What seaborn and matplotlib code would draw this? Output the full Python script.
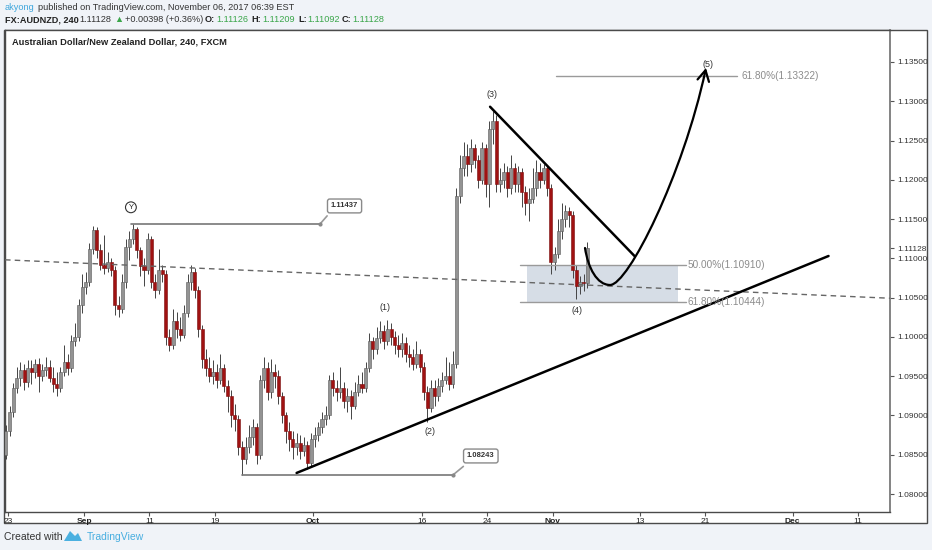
import matplotlib
matplotlib.use('Agg')
import matplotlib.pyplot as plt
import matplotlib.patches as mpatches
from matplotlib.path import Path
import numpy as np
import pandas as pd
import seaborn as sns

sns.set_theme(style='white')
plt.rcParams['font.family'] = ['Liberation Sans', 'DejaVu Sans']

# --- AUDNZD candles (first one is the last bar of Aug 22, then 3 bars per trading day) ---
first_open = 1.0850
closes = [
    1.0880,
    1.0905, 1.0935, 1.0948,  1.0958, 1.0942, 1.0960,  1.0955, 1.0965, 1.0950,
    1.0958, 1.0962, 1.0948,  1.0940, 1.0935, 1.0955,  1.0968, 1.0960, 1.0995,
    1.1000, 1.1040, 1.1064,
    1.1070, 1.1112, 1.1136,  1.1110, 1.1092, 1.1088,  1.1095, 1.1085, 1.1040,
    1.1035, 1.1070, 1.1115,  1.1125, 1.1138, 1.1110,  1.1090, 1.1085, 1.1125,
    1.1070, 1.1060, 1.1085,  1.1080, 1.1000, 1.0990,  1.1020, 1.1010, 1.1002,
    1.1030, 1.1070, 1.1082,  1.1060, 1.1010, 1.0972,  1.0960, 1.0950, 1.0955,
    1.0945, 1.0960, 1.0938,  1.0925, 1.0900, 1.0895,  1.0860, 1.0845, 1.0860,
    1.0872, 1.0885, 1.0850,  1.0945, 1.0960, 1.0930,  1.0955, 1.0950, 1.0925,
    1.0900, 1.0880, 1.0870,  1.0860, 1.0865, 1.0855,  1.0862, 1.0840, 1.0870,
    1.0875, 1.0885, 1.0895,  1.0900, 1.0945, 1.0935,  1.0930, 1.0935, 1.0918,
    1.0925, 1.0912, 1.0930,  1.0940, 1.0935, 1.0960,  1.0995, 1.0985, 1.0998,
    1.1008, 1.0995, 1.1010,  1.1000, 1.0990, 1.0985,  1.0992, 1.0978, 1.0975,
    1.0965, 1.0978, 1.0962,  1.0930, 1.0910, 1.0935,  1.0925, 1.0938, 1.0945,
    1.0950, 1.0940, 1.0965,  1.1180, 1.1215, 1.1230,  1.1220, 1.1240, 1.1225,
    1.1200, 1.1240, 1.1195,  1.1265, 1.1275, 1.1195,  1.1200, 1.1210, 1.1190,
    1.1215, 1.1195, 1.1210,  1.1185, 1.1170, 1.1175,  1.1190, 1.1210, 1.1200,
    1.1215, 1.1190, 1.1095,
    1.1105, 1.1135, 1.1150,  1.1160, 1.1155, 1.1085,  1.1065, 1.1070, 1.1068,
    1.1113,
]
highs = [
    1.0888,
    1.0912, 1.0941, 1.0962,  1.0968, 1.0965, 1.0971,  1.0970, 1.0972, 1.0973,
    1.0966, 1.0975, 1.0970,  1.0962, 1.0955, 1.0962,  1.0990, 1.0978, 1.1002,
    1.1018, 1.1048, 1.1080,
    1.1082, 1.1120, 1.1141,  1.1140, 1.1118, 1.1130,  1.1108, 1.1100, 1.1090,
    1.1052, 1.1080, 1.1125,  1.1135, 1.1144, 1.1140,  1.1115, 1.1100, 1.1132,
    1.1128, 1.1080, 1.1112,  1.1092, 1.1085, 1.1010,  1.1035, 1.1032, 1.1025,
    1.1040, 1.1080, 1.1092,  1.1088, 1.1065, 1.1015,  1.0985, 1.0975, 1.0970,
    1.0965, 1.0978, 1.0965,  1.0945, 1.0932, 1.0915,  1.0900, 1.0868, 1.0872,
    1.0888, 1.0895, 1.0890,  1.0952, 1.0975, 1.0968,  1.0972, 1.0965, 1.0958,
    1.0930, 1.0905, 1.0892,  1.0880, 1.0878, 1.0875,  1.0872, 1.0868, 1.0878,
    1.0885, 1.0892, 1.0905,  1.0912, 1.0952, 1.0955,  1.0945, 1.0962, 1.0942,
    1.0935, 1.0932, 1.0942,  1.0952, 1.0955, 1.0968,  1.1005, 1.1000, 1.1012,
    1.1020, 1.1015, 1.1022,  1.1018, 1.1008, 1.1002,  1.1005, 1.1000, 1.0990,
    1.0985, 1.0995, 1.0985,  1.0968, 1.0938, 1.0945,  1.0945, 1.0948, 1.0955,
    1.0975, 1.0968, 1.0982,  1.1190, 1.1232, 1.1248,  1.1245, 1.1252, 1.1245,
    1.1232, 1.1248, 1.1245,  1.1275, 1.1288, 1.1282,  1.1215, 1.1222, 1.1218,
    1.1232, 1.1222, 1.1218,  1.1215, 1.1192, 1.1190,  1.1215, 1.1225, 1.1222,
    1.1220, 1.1218, 1.1195,
    1.1115, 1.1150, 1.1170,  1.1168, 1.1165, 1.1160,  1.1092, 1.1078, 1.1080,
    1.1121,
]
lows = [
    1.0845,
    1.0874, 1.0898, 1.0928,  1.0938, 1.0933, 1.0936,  1.0940, 1.0948, 1.0930,
    1.0944, 1.0950, 1.0942,  1.0930, 1.0925, 1.0930,  1.0950, 1.0952, 1.0955,
    1.0988, 1.0995, 1.1030,
    1.1055, 1.1065, 1.1105,  1.1100, 1.1085, 1.1080,  1.1082, 1.1078, 1.1028,
    1.1025, 1.1030, 1.1062,  1.1098, 1.1118, 1.1100,  1.1078, 1.1065, 1.1080,
    1.1062, 1.1050, 1.1055,  1.1070, 1.0990, 1.0982,  1.0985, 1.0998, 1.0995,
    1.0998, 1.1025, 1.1060,  1.1050, 1.1000, 1.0960,  1.0950, 1.0942, 1.0940,
    1.0935, 1.0940, 1.0930,  1.0905, 1.0885, 1.0880,  1.0850, 1.0824, 1.0838,
    1.0852, 1.0862, 1.0838,  1.0845, 1.0935, 1.0920,  1.0922, 1.0935, 1.0915,
    1.0890, 1.0865, 1.0855,  1.0845, 1.0850, 1.0845,  1.0848, 1.0832, 1.0835,
    1.0860, 1.0868, 1.0878,  1.0888, 1.0895, 1.0925,  1.0918, 1.0922, 1.0910,
    1.0905, 1.0895, 1.0908,  1.0925, 1.0928, 1.0930,  1.0955, 1.0972, 1.0978,
    1.0992, 1.0985, 1.0990,  1.0990, 1.0978, 1.0975,  1.0975, 1.0968, 1.0962,
    1.0958, 1.0960, 1.0955,  1.0920, 1.0892, 1.0905,  1.0912, 1.0918, 1.0930,
    1.0940, 1.0932, 1.0935,  1.0960, 1.1170, 1.1205,  1.1205, 1.1210, 1.1215,
    1.1190, 1.1195, 1.1178,  1.1165, 1.1245, 1.1185,  1.1185, 1.1190, 1.1178,
    1.1182, 1.1185, 1.1185,  1.1165, 1.1155, 1.1148,  1.1170, 1.1180, 1.1190,
    1.1195, 1.1180, 1.1080,
    1.1085, 1.1100, 1.1125,  1.1140, 1.1140, 1.1075,  1.1048, 1.1055, 1.1058,
    1.1062,
]

# --- axis values ---
price_ticks = [1.080, 1.085, 1.090, 1.095, 1.100, 1.105, 1.110, 1.115, 1.120, 1.125, 1.130, 1.135]
last_price = 1.11128
tick_dates = ['2017-08-23', '2017-09-01', '2017-09-11', '2017-09-19', '2017-10-02', '2017-10-16',
              '2017-10-24', '2017-11-01', '2017-11-13', '2017-11-21', '2017-12-01', '2017-12-11']
tick_labels = ['23', 'Sep', '11', '19', 'Oct', '16', '24', 'Nov', '13', '21', 'Dec', '11']
month_labels = ['Sep', 'Oct', 'Nov', 'Dec']

# --- drawings: (date, fraction of day, price) ---
dashed_line = [('2017-08-23', 0.0, 1.1098), ('2017-12-11', 0.0, 1.1051)]
up_trend = [('2017-09-28', 0.5, 1.08268), ('2017-12-06', 0.3, 1.1103)]
down_trend = [('2017-10-24', 0.25, 1.1293), ('2017-11-10', 0.5, 1.1103)]
high_level = 1.11437
high_line = [('2017-09-07', 0.3), ('2017-10-02', 0.65)]
high_box = ('2017-10-04', 0.9, 1.11667)
low_level = 1.08243
low_line = [('2017-09-21', 0.5), ('2017-10-18', 0.85)]
low_box = ('2017-10-23', 0.4, 1.08484)
wave_labels = [('(1)', '2017-10-10', 0.6, 1.1038), ('(2)', '2017-10-16', 0.7, 1.0880),
               ('(3)', '2017-10-24', 0.4, 1.1308), ('(4)', '2017-11-03', 0.2, 1.1034),
               ('(5)', '2017-11-21', 0.2, 1.1347)]
y_label = ('Y', '2017-09-07', 0.3, 1.1165)
fib_levels = [1.10910, 1.10444]
fib_texts = ['50.00%(1.10910)', '61.80%(1.10444)']
fib_line = [('2017-10-27', 0.0), ('2017-11-17', 0.2)]
fib_box = [('2017-10-27', 0.6), ('2017-11-16', 0.5)]
fib_top = 1.13322
fib_top_text = '61.80%(1.13322)'
fib_top_line = [('2017-11-01', 0.3), ('2017-11-23', 0.9)]
path_pts = [('2017-11-03', 0.96, 1.11132), ('2017-11-06', 0.24, 1.10878), ('2017-11-07', 0.06, 1.10661),
            ('2017-11-08', 0.26, 1.10661), ('2017-11-09', 0.91, 1.10661), ('2017-11-16', 0.95, 1.12061),
            ('2017-11-21', 0.06, 1.13424)]

cal = pd.bdate_range('2017-08-22', '2017-12-29')


def bx(date, frac=0.0):
    return cal.get_loc(pd.Timestamp(date)) + frac


opens = [first_open] + closes[:-1]
slots = np.arange(len(closes)) + 2
df = pd.DataFrame({'x': slots // 3 + (slots % 3 + 0.5) / 3, 'open': opens, 'close': closes,
                   'high': highs, 'low': lows})
df['up'] = df['close'] >= df['open']

W, H = 932, 550
fig = plt.figure(figsize=(W / 100, H / 100), dpi=100, facecolor='#f0f3f8')


def fx(x):
    return x / W


def fy(y):
    return 1 - y / H


fig.add_artist(mpatches.Rectangle((fx(4), fy(523)), fx(923), 493 / H, transform=fig.transFigure,
                                  fc='white', ec='#4a4a4a', lw=1, zorder=0))
ax = fig.add_axes([fx(5), fy(512), fx(885), 482 / H])
ax.set_facecolor('white')

# candles
ax.vlines(df['x'], df['low'], df['high'], color='#444444', lw=0.7, zorder=2)
for up, face, edge in [(True, '#939393', '#5a5a5a'), (False, '#a01212', '#7a0c0c')]:
    d = df[df['up'] == up]
    body = (d['close'] - d['open']).abs().clip(lower=0.00008)
    ax.bar(d['x'], body, bottom=d[['open', 'close']].min(axis=1), width=0.28,
           color=face, edgecolor=edge, linewidth=0.4, zorder=3)

# dashed line across the chart
(p0, p1) = dashed_line
ax.axline((bx(p0[0], p0[1]), p0[2]), (bx(p1[0], p1[1]), p1[2]), color='#666666', lw=1,
          ls=(0, (4, 3)), zorder=4)

# trend lines
for ln in (up_trend, down_trend):
    ax.plot([bx(a, f) for a, f, _ in ln], [p for _, _, p in ln], color='black', lw=1.8,
            solid_capstyle='round', zorder=5)

# price marker lines with callout boxes
for lvl, span, box in [(high_level, high_line, high_box), (low_level, low_line, low_box)]:
    xa, xb = bx(*span[0]), bx(*span[1])
    ax.plot([xa, xb], [lvl, lvl], color='#777777', lw=1.2, zorder=4)
    bxx = bx(box[0], box[1])
    ax.plot([xb, bxx - 1.6], [lvl, box[2] - (box[2] - lvl) * 0.55], color='#999999', lw=1.2, zorder=4)
    ax.plot([xb], [lvl], marker='o', ms=2, color='#888888', zorder=4)
    ax.text(bxx, box[2], f'{lvl:.5f}', fontsize=5.5, fontweight='bold', color='#333333',
            ha='center', va='center', zorder=6,
            bbox=dict(boxstyle='round,pad=0.45,rounding_size=0.3', fc='white', ec='#8a8a8a', lw=1))

# fibonacci zone
for lvl, txt in zip(fib_levels, fib_texts):
    ax.plot([bx(*fib_line[0]), bx(*fib_line[1])], [lvl, lvl], color='#9a9a9a', lw=1, zorder=3)
    ax.text(bx(*fib_line[1]) + 0.15, lvl, txt, fontsize=7.2, color='#8c8c8c', va='center', ha='left',
            zorder=6)
ax.add_patch(mpatches.Rectangle((bx(*fib_box[0]), fib_levels[1]), bx(*fib_box[1]) - bx(*fib_box[0]),
                                fib_levels[0] - fib_levels[1], fc='#cfd8e2', ec='none', alpha=0.85,
                                zorder=1))
ax.plot([bx(*fib_top_line[0]), bx(*fib_top_line[1])], [fib_top, fib_top], color='#9a9a9a', lw=1, zorder=3)
ax.text(bx(*fib_top_line[1]) + 0.4, fib_top, fib_top_text, fontsize=7.2, color='#8c8c8c', va='center',
        ha='left', zorder=6)

# wave labels
for txt, dt, f, p in wave_labels:
    ax.text(bx(dt, f), p, txt, fontsize=6.5, color='#333333', ha='center', va='center', zorder=6)
ax.text(bx(y_label[1], y_label[2]), y_label[3], y_label[0], fontsize=5.5, color='#222222',
        ha='center', va='center', zorder=6,
        bbox=dict(boxstyle='circle,pad=0.25', fc='white', ec='#333333', lw=0.8))

# projected path
verts = [(bx(d, f), p) for d, f, p in path_pts]
codes = [Path.MOVETO] + [Path.CURVE4] * 6
ax.add_patch(mpatches.FancyArrowPatch(path=Path(verts, codes),
                                      arrowstyle='->,head_length=0.55,head_width=0.3',
                                      mutation_scale=14, color='black', lw=1.6, zorder=6))

# axes
ax.set_xlim(0.75, 81.94)
ax.set_ylim(1.07771, 1.13907)
ax.yaxis.tick_right()
yt = price_ticks + [last_price]
ax.set_yticks(yt)
ax.set_yticklabels([f'{v:.5f}' for v in yt])
ax.set_xticks([bx(d) for d in tick_dates])
ax.set_xticklabels(tick_labels)
for lab in ax.get_xticklabels():
    if lab.get_text() in month_labels:
        lab.set_fontweight('bold')
ax.tick_params(axis='y', which='both', right=True, left=False, direction='out', length=3, width=0.8,
               pad=2, labelsize=6, colors='#555555', labelcolor='#333333')
ax.tick_params(axis='x', which='both', bottom=True, direction='out', length=3, width=0.8,
               pad=1, labelsize=6, colors='#555555', labelcolor='#222222')
for side in ['left', 'top', 'bottom']:
    ax.spines[side].set_color('#4a4a4a')
    ax.spines[side].set_linewidth(1)
ax.spines['right'].set_color('#7a7a7a')
ax.spines['right'].set_linewidth(1.3)
ax.grid(False)

# title and header
fig.text(fx(12), fy(42), 'Australian Dollar/New Zealand Dollar, 240, FXCM', fontsize=6.7,
         fontweight='bold', color='#222222', va='center', family=['Liberation Sans Narrow', 'Liberation Sans'])
fig.text(fx(5), fy(8), 'akyong', fontsize=6.6, color='#3ea6dc', va='center')
fig.text(fx(38), fy(8), 'published on TradingView.com, November 06, 2017 06:39 EST', fontsize=6.6,
         color='#333333', va='center')
green = '#3aa64a'
header = [(5, 'FX:AUDNZD, 240', '#222222', 'bold'), (79, '1.11128', '#333333', 'normal'),
          (114, '▲', green, 'normal'), (125, '+0.00398 (+0.36%)', '#333333', 'normal'),
          (205, 'O:', '#222222', 'bold'), (216, '1.11126', green, 'normal'),
          (251, 'H:', '#222222', 'bold'), (262, '1.11209', green, 'normal'),
          (298, 'L:', '#222222', 'bold'), (307, '1.11092', green, 'normal'),
          (342, 'C:', '#222222', 'bold'), (352, '1.11128', green, 'normal')]
for x, txt, col, wt in header:
    fig.text(fx(x), fy(20), txt, fontsize=6.6, color=col, fontweight=wt, va='center',
             family=['Liberation Sans', 'DejaVu Sans'])

# footer
fig.text(fx(4), fy(537), 'Created with', fontsize=7.5, color='#333333', va='center',
         family=['Liberation Sans Narrow', 'Liberation Sans'])
fig.add_artist(mpatches.Polygon([(fx(64), fy(541)), (fx(70), fy(531)), (fx(75), fy(536)),
                                 (fx(78), fy(533)), (fx(82), fy(541))], closed=True,
                                transform=fig.transFigure, fc='#4bb0e0', ec='none'))
fig.text(fx(87), fy(537), 'TradingView', fontsize=7.5, color='#48aee0', va='center',
         family=['Liberation Sans Narrow', 'Liberation Sans'])

fig.savefig('out.png', dpi=100, facecolor=fig.get_facecolor())
